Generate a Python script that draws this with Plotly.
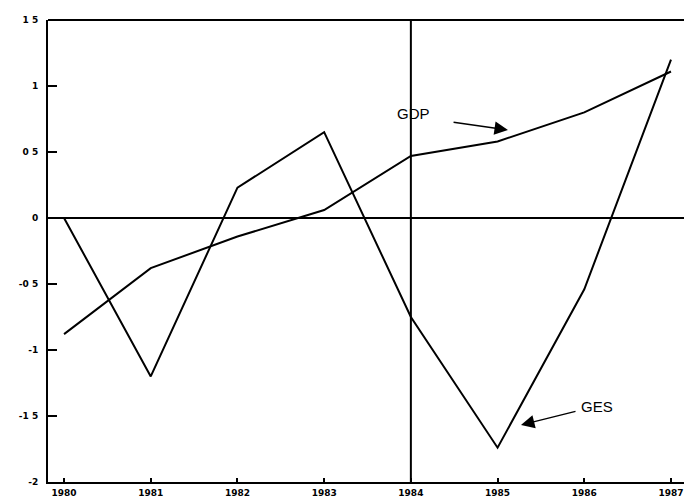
import plotly.graph_objects as go

# Annual series, 1980-1987
years = [1980, 1981, 1982, 1983, 1984, 1985, 1986, 1987]
gdp = [-0.88, -0.38, -0.14, 0.06, 0.47, 0.58, 0.80, 1.11]
ges = [0.0, -1.20, 0.23, 0.65, -0.75, -1.74, -0.54, 1.20]

year_labels = ["1980", "1981", "1982", "1983", "1984", "1985", "1986", "1987"]
y_ticks = [1.5, 1, 0.5, 0, -0.5, -1, -1.5, -2]
y_tick_labels = ["1 5", "1", "0 5", "0", "-0 5", "-1", "-1 5", "-2"]

marker_year = 1984

fig = go.Figure()
fig.add_trace(go.Scatter(x=years, y=gdp, mode="lines", name="GDP",
                         line=dict(color="black", width=2)))
fig.add_trace(go.Scatter(x=years, y=ges, mode="lines", name="GES",
                         line=dict(color="black", width=2)))

# vertical reference line and top frame
fig.add_shape(type="line", xref="x", yref="paper", x0=marker_year, x1=marker_year,
              y0=0, y1=1, line=dict(color="black", width=2))
fig.add_shape(type="line", xref="paper", yref="paper", x0=0, x1=1, y0=1, y1=1,
              line=dict(color="black", width=2))

tick_font = dict(family="DejaVu Sans", size=9, color="black", weight="bold")
label_font = dict(family="Liberation Sans", size=15, color="black")

# series labels with pointer arrows
fig.add_annotation(x=1984.03, y=0.79, xref="x", yref="y", text="GDP",
                   showarrow=False, font=label_font)
fig.add_annotation(x=1985.12, y=0.667, ax=1984.475, ay=0.727, axref="x", ayref="y",
                   xref="x", yref="y", text="", showarrow=True, arrowhead=2,
                   arrowsize=1.8, arrowwidth=1.5, arrowcolor="black")
fig.add_annotation(x=1986.15, y=-1.43, xref="x", yref="y", text="GES",
                   showarrow=False, font=label_font)
fig.add_annotation(x=1985.27, y=-1.568, ax=1985.916, ay=-1.462, axref="x", ayref="y",
                   xref="x", yref="y", text="", showarrow=True, arrowhead=2,
                   arrowsize=1.8, arrowwidth=1.5, arrowcolor="black")

fig.update_layout(
    width=684, height=500,
    margin=dict(l=48, r=0, t=20, b=18),
    paper_bgcolor="white", plot_bgcolor="white",
    showlegend=False,
    xaxis=dict(range=[1979.815, 1987.15], tickmode="array", tickvals=years,
               ticktext=year_labels, ticks="inside", ticklen=4, tickwidth=1.5,
               tickcolor="black", showgrid=False, zeroline=False,
               showline=True, linecolor="black", linewidth=2,
               tickfont=tick_font, ticklabelstandoff=1),
    yaxis=dict(range=[-2, 1.5], tickmode="array", tickvals=y_ticks,
               ticktext=y_tick_labels, ticks="inside", ticklen=9, tickwidth=1.5,
               tickcolor="black", showgrid=False, zeroline=True,
               zerolinecolor="black", zerolinewidth=1.5,
               showline=True, linecolor="black", linewidth=2,
               tickfont=tick_font, ticklabelstandoff=6),
)

fig.write_html("out.html")
